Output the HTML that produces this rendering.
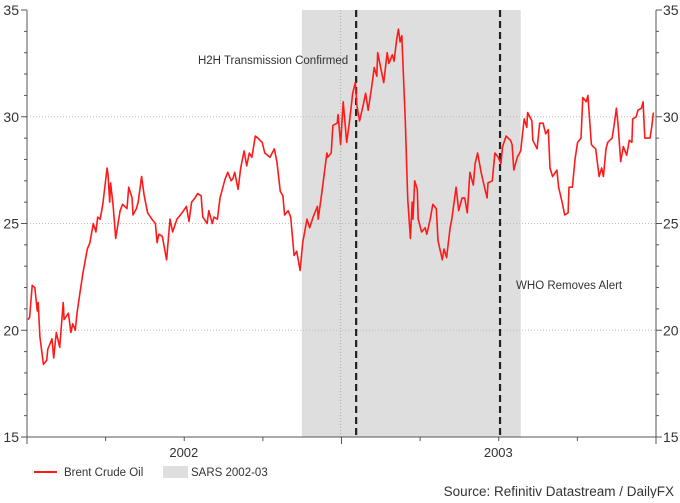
<!DOCTYPE html>
<html><head><meta charset="utf-8"><style>
body{margin:0;background:#fff;font-family:"Liberation Sans",Arial,sans-serif;}
svg text{font-family:"Liberation Sans",Arial,sans-serif;}
</style></head><body>
<svg id="c" width="680" height="498" xmlns="http://www.w3.org/2000/svg"></svg>
<script>
const days=[1,3,6,9,12,13,15,19,23,24,29,31,34,38,42,43,48,51,53,56,58,62,65,70,73,77,80,82,85,88,93,94,96,97,100,103,108,111,116,118,122,123,127,129,133,136,140,145,149,151,153,157,162,166,169,174,180,185,188,191,195,198,202,204,209,211,215,217,221,224,230,233,237,239,241,245,248,252,255,258,261,265,268,273,276,282,287,290,294,297,299,303,306,310,313,317,320,325,328,332,337,338,342,348,349,353,355,360,361,364,367,371,374,378,381,383,386,390,393,396,400,403,406,407,411,414,418,420,424,426,429,431,433,435,439,441,442,445,447,448,450,453,454,458,462,464,468,471,475,477,482,484,487,491,493,498,501,505,508,511,514,518,520,523,527,531,534,535,540,543,547,550,552,556,561,563,565,569,573,577,580,581,586,587,592,595,599,602,605,607,610,615,617,621,624,628,629,633,636,639,643,645,649,651,655,657,660,664,667,669,672,674,679,681,684,686,689,692,696,699,702,703,707,709,713,715,717,723,725,727];
const prices=[20.5,20.6,22.1,22.0,20.9,21.3,19.7,18.4,18.6,19.1,19.6,18.7,19.9,19.2,21.3,20.5,20.8,19.9,20.3,20.0,20.8,21.9,22.7,23.8,24.1,25.0,24.6,25.3,25.2,25.9,27.6,27.3,26.0,26.9,25.8,24.3,25.6,25.9,25.7,26.7,26.2,25.4,25.7,26.0,27.2,26.3,25.5,25.2,25.0,24.1,24.5,24.4,23.3,25.2,24.6,25.2,25.5,25.8,25.1,26.0,26.2,26.4,26.3,25.3,25.0,25.6,25.0,25.3,25.2,26.2,27.1,27.4,27.0,27.1,27.4,26.6,27.6,28.4,27.7,28.3,28.1,29.1,29.0,28.8,28.3,28.1,28.5,27.9,26.5,26.3,25.4,25.6,25.3,23.5,23.7,22.8,24.1,25.2,24.8,25.3,25.8,25.2,26.4,28.3,28.1,28.3,29.6,29.7,30.1,28.7,30.7,28.8,29.7,31.1,31.6,30.5,29.8,30.5,31.1,30.3,31.4,32.3,31.9,33.0,32.2,31.6,33.0,32.5,32.9,32.6,33.6,34.1,33.5,33.8,29.8,27.2,26.1,24.3,26.0,25.2,27.0,26.6,25.2,24.6,24.8,24.5,25.2,25.9,25.7,24.2,23.3,23.8,23.4,24.8,25.2,26.7,25.6,26.2,26.2,25.5,27.4,26.8,27.8,28.3,27.4,26.7,26.2,26.9,27.0,28.3,28.1,27.8,28.6,29.1,28.9,28.7,27.5,28.1,28.4,29.9,29.5,30.2,29.8,28.9,28.5,29.7,29.7,29.2,29.4,27.6,27.2,27.5,26.7,26.0,25.4,25.5,26.7,26.7,28.0,28.8,29.0,30.9,30.7,31.0,28.7,28.6,28.5,27.2,27.6,27.2,28.5,28.8,29.0,29.5,30.4,29.6,27.9,28.6,28.2,28.9,28.8,29.9,30.0,30.3,30.4,30.7,29.0,29.0,29.5,30.2];
const yTicks=[15,20,25,30,35];
const gridValues=[20,25,30];
const yearLabels=["2002","2003"];
const yearCenters=[182,547];
const sarsSpan=[319,573];
const eventDays=[382,549];
const eventLabels=["H2H Transmission Confirmed","WHO Removes Alert"];

const X0=27,X1=656,Y0=437,Y1=10,D0=0,D1=730,V0=15,V1=35;
const sx=d=>X0+(d-D0)/(D1-D0)*(X1-X0);
const sy=v=>Y0-(v-V0)/(V1-V0)*(Y0-Y1);
const svg=document.getElementById('c');
const NS='http://www.w3.org/2000/svg';
function mk(tag,attrs,parent){const e=document.createElementNS(NS,tag);for(const k in attrs)e.setAttribute(k,attrs[k]);(parent||svg).appendChild(e);return e;}

let r=mk('rect',{x:sx(sarsSpan[0]),y:Y1,width:sx(sarsSpan[1])-sx(sarsSpan[0]),height:Y0-Y1,fill:'#dedede'});



gridValues.forEach(v=>{const g=mk('line',{x1:X0,x2:X1,y1:sy(v),y2:sy(v),stroke:'#bbb','stroke-dasharray':'1,2','stroke-width':1});

});
let vg=mk('line',{x1:sx(364),x2:sx(364),y1:Y1,y2:Y0,stroke:'#aaa','stroke-dasharray':'1,2'});



eventDays.forEach(d=>{const l=mk('line',{x1:sx(d),x2:sx(d),y1:Y1,y2:Y0,stroke:'#222','stroke-width':2.2,'stroke-dasharray':'7,4'});

});

let pts=days.map((d,i)=>sx(d).toFixed(1)+','+sy(prices[i]).toFixed(1)).join(' ');
let pl=mk('polyline',{points:pts,fill:'none',stroke:'#ff1a1a','stroke-width':1.6,'stroke-linejoin':'round'});



// axes
const ax={stroke:'#555','stroke-width':1};
let la=mk('line',Object.assign({x1:X0,x2:X0,y1:Y1,y2:Y0},ax));


let ra=mk('line',Object.assign({x1:X1,x2:X1,y1:Y1,y2:Y0},ax));


let ba=mk('line',Object.assign({x1:X0,x2:X1,y1:Y0,y2:Y0},ax));


for(let v=V0;v<=V1;v++){const big=v%5===0;
mk('line',Object.assign({x1:X0-(big?6:3),x2:X0,y1:sy(v),y2:sy(v)},ax));
mk('line',Object.assign({x1:X1,x2:X1+(big?6:3),y1:sy(v),y2:sy(v)},ax));}
yTicks.forEach(v=>{
const t=mk('text',{x:X0-8,y:sy(v)+5,'text-anchor':'end','font-size':14,fill:'#333'});t.textContent=v;


const t2=mk('text',{x:X1+7,y:sy(v)+5,'font-size':14,fill:'#333'});t2.textContent=v;

});
for(let q=0;q<=8;q++){const d=q*91.25;const big=q%4===0;
mk('line',Object.assign({x1:sx(d),x2:sx(d),y1:Y0,y2:Y0+(big?7:4)},ax));}
yearLabels.forEach((s,i)=>{const t=mk('text',{x:sx(yearCenters[i]),y:457,'text-anchor':'middle','font-size':13,fill:'#333'});t.textContent=s;

});

let a1=mk('text',{x:sx(eventDays[0])-8,y:64,'text-anchor':'end','font-size':11.5,fill:'#333'});a1.textContent=eventLabels[0];


let a2=mk('text',{x:sx(eventDays[1])+16,y:289,'font-size':11.5,fill:'#333'});a2.textContent=eventLabels[1];



// legend
let lg=mk('g',{});


mk('line',{x1:34,x2:57,y1:472,y2:472,stroke:'#ff1a1a','stroke-width':2},lg);
let lt=mk('text',{x:64,y:476,'font-size':11.5,fill:'#333'},lg);lt.textContent='Brent Crude Oil';


mk('rect',{x:163,y:466,width:25,height:12,fill:'#dedede'},lg);
let lt2=mk('text',{x:191,y:476,'font-size':11.5,fill:'#333'},lg);lt2.textContent='SARS 2002-03';


let src=mk('text',{x:674,y:496,'text-anchor':'end','font-size':13.5,fill:'#333'});src.textContent='Source: Refinitiv Datastream / DailyFX';


</script>
</body></html>
